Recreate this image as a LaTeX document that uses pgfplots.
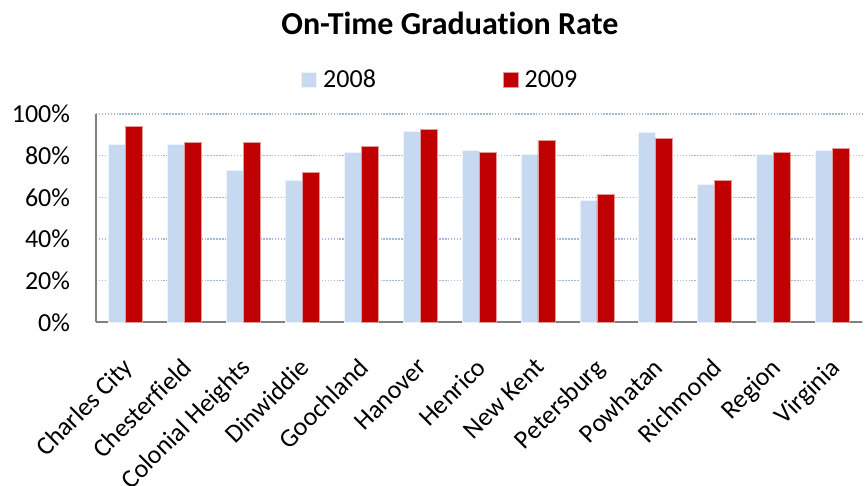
\documentclass[border=0pt]{standalone}
\usepackage{pgfplots}
\pgfplotsset{compat=1.18}
\usepackage{fontspec}
\setmainfont{Carlito}[Ligatures=NoCommon]
\definecolor{c2008}{RGB}{198,217,240}
\definecolor{c2009}{RGB}{192,0,0}
\definecolor{gridc}{RGB}{160,186,220}
\definecolor{axc}{RGB}{128,128,128}
\begin{document}
\begin{tikzpicture}
\useasboundingbox (0,0) rectangle (649.5pt,363.75pt);
\begin{axis}[
  at={(72pt,122pt)}, anchor=south west,
  scale only axis,
  width=574.5pt, height=156.2pt,
  ybar=0pt, bar width=12.75pt,
  xmin=-0.5, xmax=12.5,
  ymin=0, ymax=100,
  ytick={0,20,40,60,80,100},
  yticklabel={\pgfmathprintnumber{\tick}\%},
  /pgf/number format/assume math mode=true,
  yticklabel shift=16pt,
  xtick={0,...,12},
  xticklabels={Charles City,Chesterfield,Colonial Heights,Dinwiddie,Goochland,Hanover,Henrico,New Kent,Petersburg,Powhatan,Richmond,Region,Virginia},
  x tick label style={inner sep=0pt, xshift=-3pt, yshift=-25.5pt, rotate=45, anchor=north east, font=\fontsize{19.5}{22}\selectfont},
  y tick label style={font=\fontsize{19.5}{22}\selectfont},
  major tick length=0pt,
  axis x line=bottom, axis y line=left,
  axis line style={-, draw=axc, line width=1.5pt},
  ymajorgrids,
  grid style={gridc, line width=1.1pt, dash pattern=on 1.1pt off 1.1pt},
  title={\textbf{On-Time Graduation Rate}},
  title style={at={(axis description cs:0.462,1)}, anchor=center, yshift=61.75pt, font=\fontsize{24}{28}\selectfont},
  legend columns=2,
  legend style={draw=none, fill=none, at={(axis description cs:0.2676,1.163)}, anchor=west, font=\fontsize{19.5}{22}\selectfont, inner sep=0pt, /tikz/every even column/.append style={column sep=93pt}},
  legend image code/.code={\fill[#1] (0pt,-5.6pt) rectangle (11.25pt,5.6pt); \path (14pt,0pt);},
  clip=false,
]
\addplot[fill=c2008, draw=white!70!c2008, line width=0.5pt] coordinates {
(0,85.3) (1,85.3) (2,72.8) (3,68.2) (4,81.4) (5,91.8) (6,82.4) (7,80.5) (8,58.4) (9,91.0) (10,66.1) (11,80.5) (12,82.4)};
\addplot[fill=c2009, draw=white!60!c2009, line width=0.5pt] coordinates {
(0,93.9) (1,86.2) (2,86.2) (3,72.0) (4,84.3) (5,92.8) (6,81.4) (7,87.2) (8,61.3) (9,88.2) (10,68.2) (11,81.4) (12,83.4)};
\legend{2008,2009}
\end{axis}
\end{tikzpicture}
\end{document}
